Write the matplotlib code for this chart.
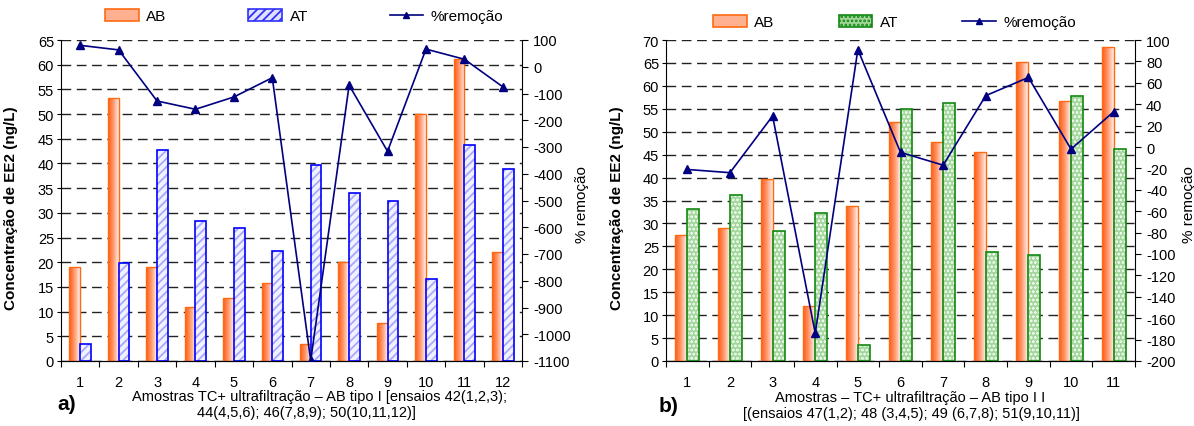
import numpy as np
import matplotlib
matplotlib.use('Agg')
import matplotlib.pyplot as plt
from matplotlib.colors import LinearSegmentedColormap
from matplotlib.patches import Patch
from matplotlib.lines import Line2D

plt.rcParams['font.family'] = ['Liberation Sans', 'DejaVu Sans']
plt.rcParams['axes.unicode_minus'] = False
plt.rcParams['hatch.linewidth'] = 1.3

# dados - grafico a) AB tipo I
amostras_a = [str(i) for i in range(1, 13)]
ab_a = [19.0, 53.3, 19.0, 10.9, 12.7, 15.8, 3.5, 20.0, 7.7, 50.0, 61.2, 22.0]
at_a = [3.5, 19.8, 42.8, 28.4, 27.0, 22.3, 39.7, 34.1, 32.3, 16.6, 43.8, 38.8]
rem_a = [80, 63, -128, -159, -113, -41, -1098, -69, -316, 66, 28, -75]

# dados - grafico b) AB tipo II
amostras_b = [str(i) for i in range(1, 12)]
ab_b = [27.5, 29.1, 39.6, 12.0, 33.7, 52.1, 47.8, 45.6, 65.3, 56.8, 68.4]
at_b = [33.1, 36.2, 28.3, 32.3, 3.4, 54.9, 56.2, 23.8, 23.2, 57.7, 46.3]
rem_b = [-21, -24, 29, -174, 91, -5, -17, 48, 65, -2, 33]

xlabel_a = ['Amostras TC+ ultrafiltração – AB tipo I [ensaios 42(1,2,3);',
            '44(4,5,6); 46(7,8,9); 50(10,11,12)]']
xlabel_b = ['Amostras – TC+ ultrafiltração – AB tipo I I',
            '[(ensaios 47(1,2); 48 (3,4,5); 49 (6,7,8); 51(9,10,11)]']

W, H = 1194, 427
fig = plt.figure(figsize=(W / 100, H / 100), dpi=100)

orange = '#ff6a10'
grad = LinearSegmentedColormap.from_list('ab', ['#ff5a10', '#ff9a70', '#fff2ee'])
navy = '#000080'
green_fill = '#a2d69a'


def px(x0, x1):
    return [x0 / W, (H - 362) / H, (x1 - x0) / W, 321 / H]


def gradient_bars(ax, bars):
    # preenchimento em degradê (laranja -> branco) dentro de cada barra
    g = np.linspace(0, 1, 64).reshape(1, -1)
    for b in bars:
        x, y = b.get_x(), b.get_y()
        w, h = b.get_width(), b.get_height()
        im = ax.imshow(g, cmap=grad, extent=[x, x + w, y, y + h],
                       aspect='auto', zorder=2.5, interpolation='bilinear')
        im.set_clip_path(b)


def draw(pos, cats, ab, at, rem, ymax, r_lo, r_hi, r_step, at_style, xlab, xlab_pos, letter, letter_pos, ylab_x, y2lab_x):
    ax = fig.add_axes(pos)
    n = len(cats)
    x = np.arange(n)
    w = 0.28
    bars = ax.bar(x - w / 2, ab, w, facecolor='none', edgecolor=orange, linewidth=1.0, zorder=3)
    gradient_bars(ax, bars)
    if at_style == 'blue':
        ax.bar(x + w / 2, at, w, facecolor='#f2f2ff', edgecolor='#a8a8ff', hatch='////', linewidth=0, zorder=3)
        ax.bar(x + w / 2, at, w, facecolor='none', edgecolor='#0000ff', linewidth=1.2, zorder=3.1)
    else:
        ax.bar(x + w / 2, at, w, facecolor=green_fill, edgecolor='#ffffff', hatch='....', linewidth=0, zorder=3)
        ax.bar(x + w / 2, at, w, facecolor='none', edgecolor='#118811', linewidth=1.2, zorder=3.1)

    ax.set_xlim(-0.5, n - 0.5)
    ax.set_ylim(0, ymax)
    ax.set_yticks(np.arange(0, ymax + 1, 5))
    ax.yaxis.grid(True, color='#222222', linestyle=(0, (7, 4)), linewidth=1.0)
    ax.set_axisbelow(True)
    ax.set_xticks(np.arange(-0.5, n, 1.0))
    ax.set_xticklabels([])
    ax.set_xticks(x, minor=True)
    ax.set_xticklabels(cats, minor=True)
    ax.tick_params(axis='x', which='major', length=4, direction='out')
    ax.tick_params(axis='x', which='minor', length=0, pad=10, labelsize=10.5)
    ax.tick_params(axis='y', length=3, pad=2, labelsize=10.5)
    ax.spines['top'].set_visible(False)
    ax.spines['right'].set_visible(False)
    ax.set_ylabel('Concentração de EE2 (ng/L)', fontsize=11, fontweight='bold')
    ax.yaxis.set_label_coords(ylab_x, 0.48)

    ax2 = ax.twinx()
    ax2.plot(x, rem, color=navy, marker='^', markersize=6, linewidth=1.2, zorder=5)
    ax2.set_ylim(r_lo, r_hi)
    ax2.set_yticks(np.arange(r_lo, r_hi + 1, r_step))
    ax2.tick_params(axis='y', length=4, pad=4, labelsize=10.5)
    ax2.spines['top'].set_visible(False)
    ax2.spines['left'].set_visible(False)
    ax2.set_ylabel('% remoção', fontsize=11)
    ax2.yaxis.set_label_coords(y2lab_x, 0.49)

    for (tx, ty), s in zip(xlab_pos, xlab):
        fig.text(tx / W, 1 - ty / H, s, ha='center', va='center', fontsize=10.5)
    fig.text(letter_pos[0] / W, 1 - letter_pos[1] / H, letter, ha='center', va='center',
             fontsize=15, fontweight='bold')
    return ax, ax2


draw(px(61, 522), amostras_a, ab_a, at_a, rem_a, 65, -1100, 100, 100, 'blue',
     xlabel_a, [(320, 397), (306, 413)], 'a)', (67, 405), -0.093, 1.115)
draw(px(666, 1135), amostras_b, ab_b, at_b, rem_b, 70, -200, 100, 20, 'green',
     xlabel_b, [(910, 398), (911, 414)], 'b)', (669, 407), -0.09, 1.10)

# legendas
h_ab = Patch(facecolor='#ffb090', edgecolor=orange, linewidth=1.2)
h_at_a = Patch(facecolor='#e0e0ff', edgecolor='#3030ff', hatch='////', linewidth=1.2)
h_at_b = Patch(facecolor=green_fill, edgecolor='#118811', hatch='....', linewidth=1.2)
h_rem = Line2D([], [], color=navy, marker='^', markersize=5, linewidth=1.2)

leg_kw = dict(loc='center left', ncol=3, frameon=False, fontsize=11, borderpad=0,
              borderaxespad=0, handlelength=2.2, handleheight=0.8, handletextpad=0.5)
fig.legend([h_ab, h_at_a, h_rem], ['AB', 'AT', '%remoção'],
           bbox_to_anchor=(105 / W, 1 - 17 / H), columnspacing=5.35, **leg_kw)
fig.legend([h_ab, h_at_b, h_rem], ['AB', 'AT', '%remoção'],
           bbox_to_anchor=(713 / W, 1 - 23 / H), columnspacing=4.2, **leg_kw)

fig.savefig('out.png', dpi=100)
